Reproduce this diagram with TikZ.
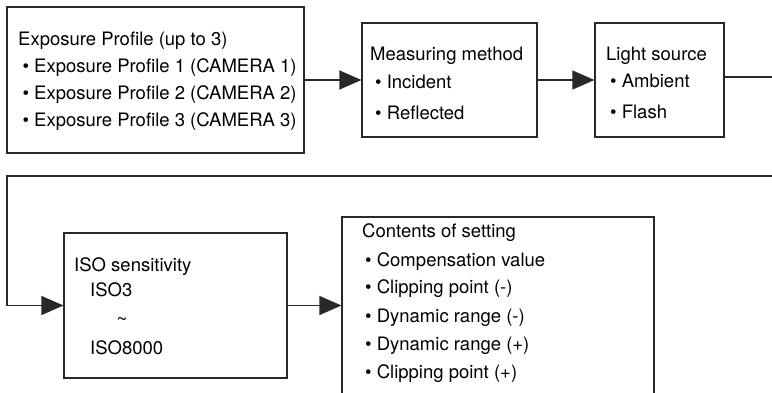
\documentclass[tikz,border=0pt]{standalone}
\usepackage{fontspec}
\setmainfont{TeX Gyre Heros}
\usetikzlibrary{arrows.meta}
\definecolor{linec}{RGB}{40,40,40}
\tikzset{
  box/.style={draw=linec, line width=1.2pt, rectangle, inner sep=0pt, fill=white},
  txt/.style={anchor=base west, inner sep=0pt, font=\fontsize{18.5}{22}\selectfont, text=black},
  arr/.style={draw=linec, line width=1.2pt, -{Triangle[length=22pt,width=19pt]}},
  conn/.style={draw=linec, line width=1.2pt}
}
\begin{document}
\begin{tikzpicture}[x=1pt,y=-1pt]
\clip (0,0) rectangle (772,393);
\fill[white] (0,0) rectangle (772,393);
% boxes
\node[box, minimum width=297pt, minimum height=146pt] (b1) at (155.5,80) {};
\node[box, minimum width=175pt, minimum height=114pt] (b2) at (449.5,80) {};
\node[box, minimum width=129pt, minimum height=114pt] (b3) at (659.5,80) {};
\node[box, minimum width=223pt, minimum height=145pt] (b4) at (175.5,305.5) {};
\node[box, minimum width=312pt, minimum height=203pt] (b5) at (498,318.5) {};
% texts box 1
\node[txt] (t11) at (18,46) {Exposure Profile (up to 3)};
\node[txt] (t12) at (22.4,73) {• Exposure Profile 1 (CAMERA 1)};
\node[txt] (t13) at (22.4,100) {• Exposure Profile 2 (CAMERA 2)};
\node[txt] (t14) at (22.4,127) {• Exposure Profile 3 (CAMERA 3)};
% box 2
\node[txt] (t21) at (370,61) {Measuring method};
\node[txt] (t22) at (375,89) {• Incident};
\node[txt] (t23) at (375,120) {• Reflected};
% box 3
\node[txt] (t31) at (606,61) {Light source};
\node[txt] (t32) at (610,88) {• Ambient};
\node[txt] (t33) at (610,119) {• Flash};
% box 4
\node[txt] (t41) at (74,272) {ISO sensitivity};
\node[txt] (t42) at (90,297) {ISO3};
\node[txt, anchor=base] (t43) at (122,325) {\textasciitilde};
\node[txt] (t44) at (90,354) {ISO8000};
% box 5
\node[txt] (t51) at (362,238) {Contents of setting};
\node[txt] (t52) at (365,266) {• Compensation value};
\node[txt] (t53) at (365,294) {• Clipping point (-)};
\node[txt] (t54) at (365,322) {• Dynamic range (-)};
\node[txt] (t55) at (365,350) {• Dynamic range (+)};
\node[txt] (t56) at (365,378) {• Clipping point (+)};
% connectors
\coordinate (r1) at (800,77);
\coordinate (r2) at (800,176);
\coordinate (l1) at (7,176);
\draw[arr] (b1.east) -- (b2.west);
\draw[arr] (b2.east) -- (b3.west);
\draw[arr] ([yshift=3pt]b3.east) -- (r1) -- (r2) -- (l1) -- (l1 |- b4.west) -- (b4.west);
\draw[arr] (b4.east) -- (b4.east -| b5.west);
\end{tikzpicture}
\end{document}
